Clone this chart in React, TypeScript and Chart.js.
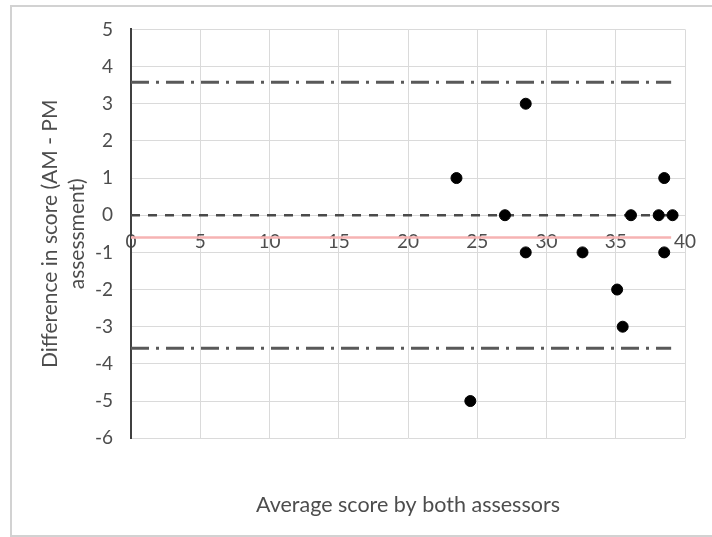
import React, { useEffect, useRef } from "react";
import { Chart, registerables } from "chart.js";

Chart.register(...registerables);

const averageScores = [23.5, 27, 28.5, 28.5, 24.5, 32.6, 35.1, 35.5, 36.1, 38.1, 38.5, 38.5, 39.1];
const scoreDifferences = [1, 0, 3, -1, -5, -1, -2, -3, 0, 0, 1, -1, 0];
const meanDifference = -0.6;
const upperLimit = 3.58;
const lowerLimit = -3.58;
const lineStart = 0;
const lineEnd = 39;
const zeroLineEnd = 39.5;
const xTitle = "Average score by both assessors";
const yTitle = ["Difference in score (AM - PM", "assessment)"];

const FONT = "Lato, 'Open Sans', sans-serif";
const TEXT = "#4d4d4d";

export default function App() {
  const canvasRef = useRef<HTMLCanvasElement | null>(null);

  useEffect(() => {
    const canvas = canvasRef.current;
    if (!canvas) return;
    const points = averageScores.map((x, i) => ({ x, y: scoreDifferences[i] }));
    const chart = new Chart(canvas, {
      type: "scatter",
      data: {
        datasets: [
          {
            label: "Differences",
            data: points,
            backgroundColor: "#000000",
            borderColor: "#000000",
            pointRadius: 5.5,
            pointHoverRadius: 5.5,
            showLine: false,
          },
          {
            label: "Zero",
            data: [
              { x: lineStart, y: 0 },
              { x: zeroLineEnd, y: 0 },
            ],
            showLine: true,
            borderColor: "#4a4a4a",
            borderWidth: 2.5,
            borderDash: [9, 8],
            pointRadius: 0,
          },
          {
            label: "Mean",
            data: [
              { x: lineStart, y: meanDifference },
              { x: lineEnd, y: meanDifference },
            ],
            showLine: true,
            borderColor: "#f6b3b3",
            borderWidth: 2.5,
            pointRadius: 0,
          },
          {
            label: "Upper limit",
            data: [
              { x: lineStart, y: upperLimit },
              { x: lineEnd, y: upperLimit },
            ],
            showLine: true,
            borderColor: "#595959",
            borderWidth: 3,
            borderDash: [18, 7, 3, 7],
            pointRadius: 0,
          },
          {
            label: "Lower limit",
            data: [
              { x: lineStart, y: lowerLimit },
              { x: lineEnd, y: lowerLimit },
            ],
            showLine: true,
            borderColor: "#595959",
            borderWidth: 3,
            borderDash: [18, 7, 3, 7],
            pointRadius: 0,
          },
        ],
      },
      options: {
        responsive: false,
        animation: false,
        layout: { padding: { left: 0, right: 27, top: 29, bottom: 9 } },
        plugins: {
          legend: { display: false },
          tooltip: { enabled: false },
          title: {
            display: true,
            position: "bottom",
            fullSize: false,
            text: xTitle,
            color: TEXT,
            font: { family: FONT, size: 21.5, weight: "normal", lineHeight: 1.2 },
            padding: { top: 54, bottom: 10 },
          },
        },
        scales: {
          x: {
            type: "linear",
            position: { y: 0 } as any,
            min: 0,
            max: 40,
            ticks: {
              stepSize: 5,
              color: TEXT,
              padding: 15,
              font: { family: FONT, size: 19 },
            },
            grid: { color: "#dadada", lineWidth: 1, drawTicks: false },
            border: { display: false },
          },
          y: {
            type: "linear",
            position: "left",
            min: -6,
            max: 5,
            ticks: {
              stepSize: 1,
              color: TEXT,
              padding: 18,
              font: { family: FONT, size: 19 },
            },
            grid: { color: "#dadada", lineWidth: 1, drawTicks: false },
            border: { display: true, color: "#404040", width: 2 },
            title: {
              display: true,
              text: yTitle,
              color: TEXT,
              font: { family: FONT, size: 21, lineHeight: 1.29 },
              padding: { top: 36.5, bottom: 0 },
            },
            afterFit: (scale: any) => {
              scale.width = 131;
            },
          },
        },
      },
    });
    return () => chart.destroy();
  }, []);

  return (
    <div
      style={{
        position: "absolute",
        left: 0,
        top: 0,
        width: 712,
        height: 537,
        overflow: "hidden",
        background: "#ffffff",
      }}
    >
      <div
        style={{
          position: "absolute",
          left: 10,
          top: 5,
          width: 730,
          height: 528,
          border: "2px solid #d2d2d2",
          boxSizing: "content-box",
        }}
      />
      <canvas
        ref={canvasRef}
        width={712}
        height={537}
        style={{ position: "absolute", left: 0, top: 0, width: 712, height: 537, display: "block" }}
      />
    </div>
  );
}
